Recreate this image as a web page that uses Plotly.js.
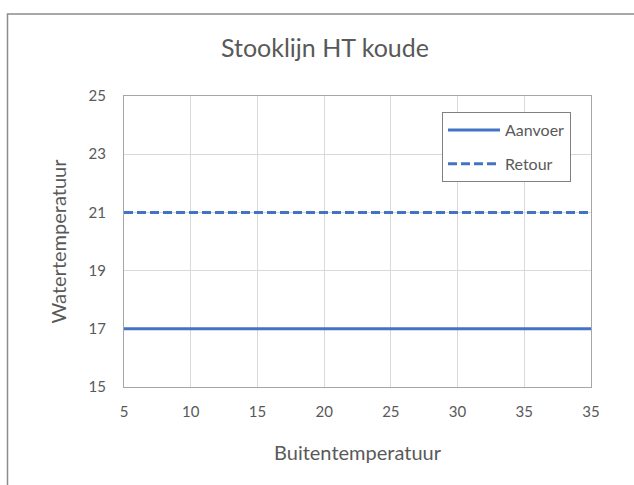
<!DOCTYPE html>
<html>
<head>
<meta charset="utf-8">
<script src="https://cdn.plot.ly/plotly-3.0.1.min.js"></script>
<style>html,body{margin:0;padding:0;background:#fff;}#chart{width:634px;height:485px;}</style>
</head>
<body>
<div id="chart"></div>
<script>
var xLabels = ["5", "10", "15", "20", "25", "30", "35", "35"];
var aanvoer = [17, 17, 17, 17, 17, 17, 17, 17];
var retour = [21, 21, 21, 21, 21, 21, 21, 21];

var xIdx = xLabels.map(function (_, i) { return i; });
var blue = "#4472c4";
var txt = "#595959";
var fontFam = "Lato, 'Open Sans', sans-serif";

var traces = [
  {x: xIdx, y: aanvoer, name: "Aanvoer", type: "scatter", mode: "lines",
   line: {color: blue, width: 3}, legendgroup: "a"},
  {x: xIdx, y: retour, name: "Retour", type: "scatter", mode: "lines",
   line: {color: blue, width: 3, dash: "9px,4px"}, legendgroup: "b"}
];

var W = 634, H = 485, L = 124, R = 43, T = 96, B = 98;
var pw = W - L - R, ph = H - T - B;
function px(x) { return (x - L) / pw; }
function py(y) { return (H - B - y) / ph; }

var layout = {
  width: W, height: H,
  margin: {l: L, r: R, t: T, b: B, pad: 0},
  paper_bgcolor: "#fff", plot_bgcolor: "#fff",
  font: {family: fontFam, color: txt, size: 15},
  title: {text: "Stooklijn HT koude", font: {size: 25, color: txt, family: fontFam},
          x: 325 / W, xref: "container", xanchor: "center",
          y: 1 - 48 / H, yref: "container", yanchor: "middle"},
  xaxis: {range: [0, 7], tickvals: xIdx, ticktext: xLabels, showgrid: true,
          gridcolor: "#d9d9d9", gridwidth: 1, zeroline: false,
          showline: true, linecolor: "#a6a6a6", linewidth: 1, mirror: true,
          ticks: "", ticklabelstandoff: 11, tickfont: {size: 15, color: txt},
          title: {text: "Buitentemperatuur", font: {size: 20, color: txt}, standoff: 26}},
  yaxis: {range: [15, 25], dtick: 2, tick0: 15, showgrid: true,
          gridcolor: "#d9d9d9", gridwidth: 1, zeroline: false,
          showline: true, linecolor: "#a6a6a6", linewidth: 1, mirror: true,
          ticks: "", ticklabelstandoff: 14, tickfont: {size: 15, color: txt},
          title: {text: "Watertemperatuur", font: {size: 20, color: txt}, standoff: 16}},
  showlegend: true,
  legend: {x: px(442), y: py(112), xanchor: "left", yanchor: "top",
           bgcolor: "#fff", bordercolor: "#808080", borderwidth: 1,
           font: {size: 16, color: txt}, itemwidth: 52, tracegroupgap: 10,
           traceorder: "grouped"},
  shapes: [
    {type: "rect", xref: "paper", yref: "paper",
     x0: px(7.5), x1: px(650), y0: py(500), y1: py(14),
     line: {color: "#8c8c8c", width: 1.5}, fillcolor: "rgba(0,0,0,0)", layer: "below"}
  ]
};

Plotly.newPlot("chart", traces, layout, {staticPlot: true, displayModeBar: false});
</script>
</body>
</html>
